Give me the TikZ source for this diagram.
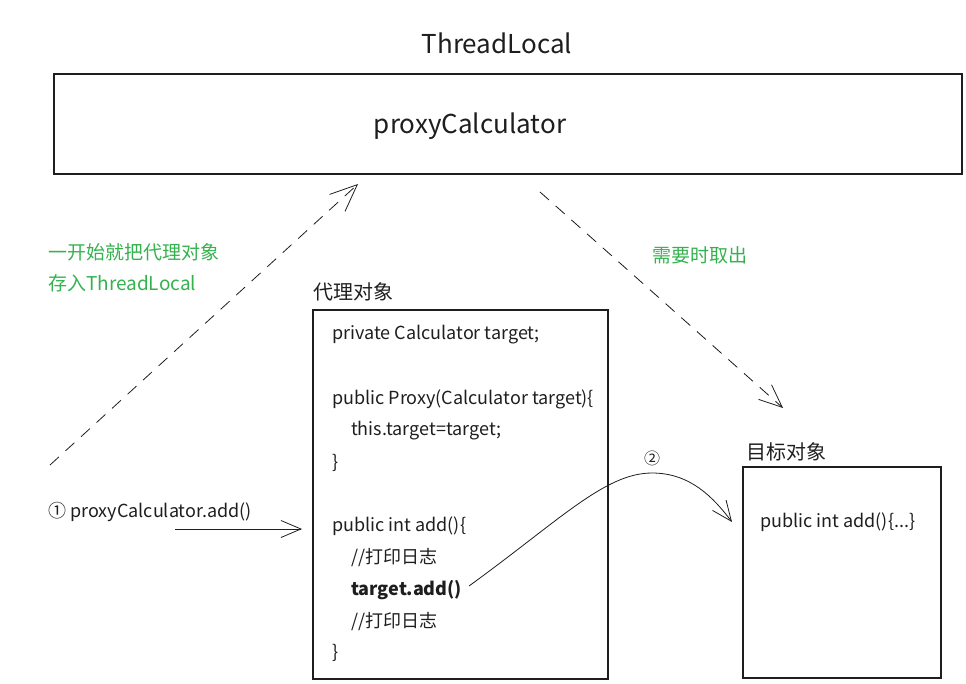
\documentclass[tikz,border=0pt]{standalone}
\usepackage{fontspec}
\setmainfont{Noto Sans CJK SC}
\usetikzlibrary{arrows.meta}
\definecolor{ink}{HTML}{1E1E1E}
\definecolor{note}{RGB}{52,178,78}
\begin{document}
\begin{tikzpicture}[x=1pt,y=-1pt,
  box/.style={draw=ink, line width=1.2pt, inner sep=0pt, outer sep=0pt, anchor=north west},
  txt/.style={inner sep=0pt, anchor=west, text=ink, font=\fontsize{18pt}{22pt}\selectfont},
  big/.style={inner sep=0pt, anchor=center, text=ink, font=\fontsize{26pt}{30pt}\selectfont},
  lbl/.style={inner sep=0pt, anchor=west, text=ink, font=\fontsize{20pt}{24pt}\selectfont},
  greentxt/.style={inner sep=0pt, anchor=west, text=note, font=\fontsize{19pt}{22pt}\selectfont},
  conn/.style={draw=ink, line width=0.8pt},
  dashedconn/.style={conn, dash pattern=on 12pt off 9pt},
  barbtip/.style={-{Straight Barb[length=#1, width=0.85*#1, line width=0.8pt]}},
]
\useasboundingbox (0,0) rectangle (966,683);

% boxes
\node[box, minimum width=908pt, minimum height=100pt] (tl) at (54,74) {};
\node[box, minimum width=295pt, minimum height=369pt] (px) at (313,310) {};
\node[box, minimum width=198pt, minimum height=211pt] (tg) at (743,467) {};

% titles
\node[big] (tltitle) at (497,43) {ThreadLocal};
\node[big] (pc) at (470,126) {proxyCalculator};
\node[lbl] (pxtitle) at (313,292) {代理对象};
\node[lbl] (tgtitle) at (746,452) {目标对象};

% green notes
\node[greentxt] (g1) at (48,252) {一开始就把代理对象};
\node[greentxt] (g2) at (48,283) {存入ThreadLocal};
\node[greentxt] (g3) at (652,255) {需要时取出};

% proxy code
\node[txt] (l1) at (332,335) {private Calculator target;};
\node[txt] (l2) at (332,399) {public Proxy(Calculator target)\{};
\node[txt] (l3) at (351,431) {this.target=target;};
\node[txt] (l4) at (332,463) {\}};
\node[txt] (l5) at (332,526) {public int add()\{};
\node[txt] (l6) at (351,558) {//打印日志};
\node[txt] (l7) at (351,590) {\textbf{target.add()}};
\node[txt] (l8) at (351,622) {//打印日志};
\node[txt] (l9) at (332,653) {\}};

% target code
\node[txt] (t1) at (760,522) {public int add()\{...\}};

% call label
\node[txt] (call) at (48,512) {① proxyCalculator.add()};
\node[inner sep=0pt, text=ink, font=\fontsize{16pt}{18pt}\selectfont] (two) at (652,458) {②};

% connector end points
\coordinate (s1) at (50,465);
\coordinate (e1) at (358,184);
\coordinate (s2) at (540,192);
\coordinate (e2) at (783,408);
\coordinate (s3) at (175,529);
\coordinate (e3) at (302,529);
\coordinate (s4) at (469,586);
\coordinate (peak) at (652,473);
\coordinate (e4) at (732,522);

\draw[dashedconn, barbtip=27pt] (s1) -- (e1);
\draw[dashedconn, barbtip=23pt] (s2) -- (e2);
\draw[conn, barbtip=20pt] (s3) -- (e3);
\draw[conn, barbtip=20pt] (s4) .. controls (560,520) and (605,473) .. (peak)
      .. controls (690,473) and (713,497) .. (e4);
\end{tikzpicture}
\end{document}
